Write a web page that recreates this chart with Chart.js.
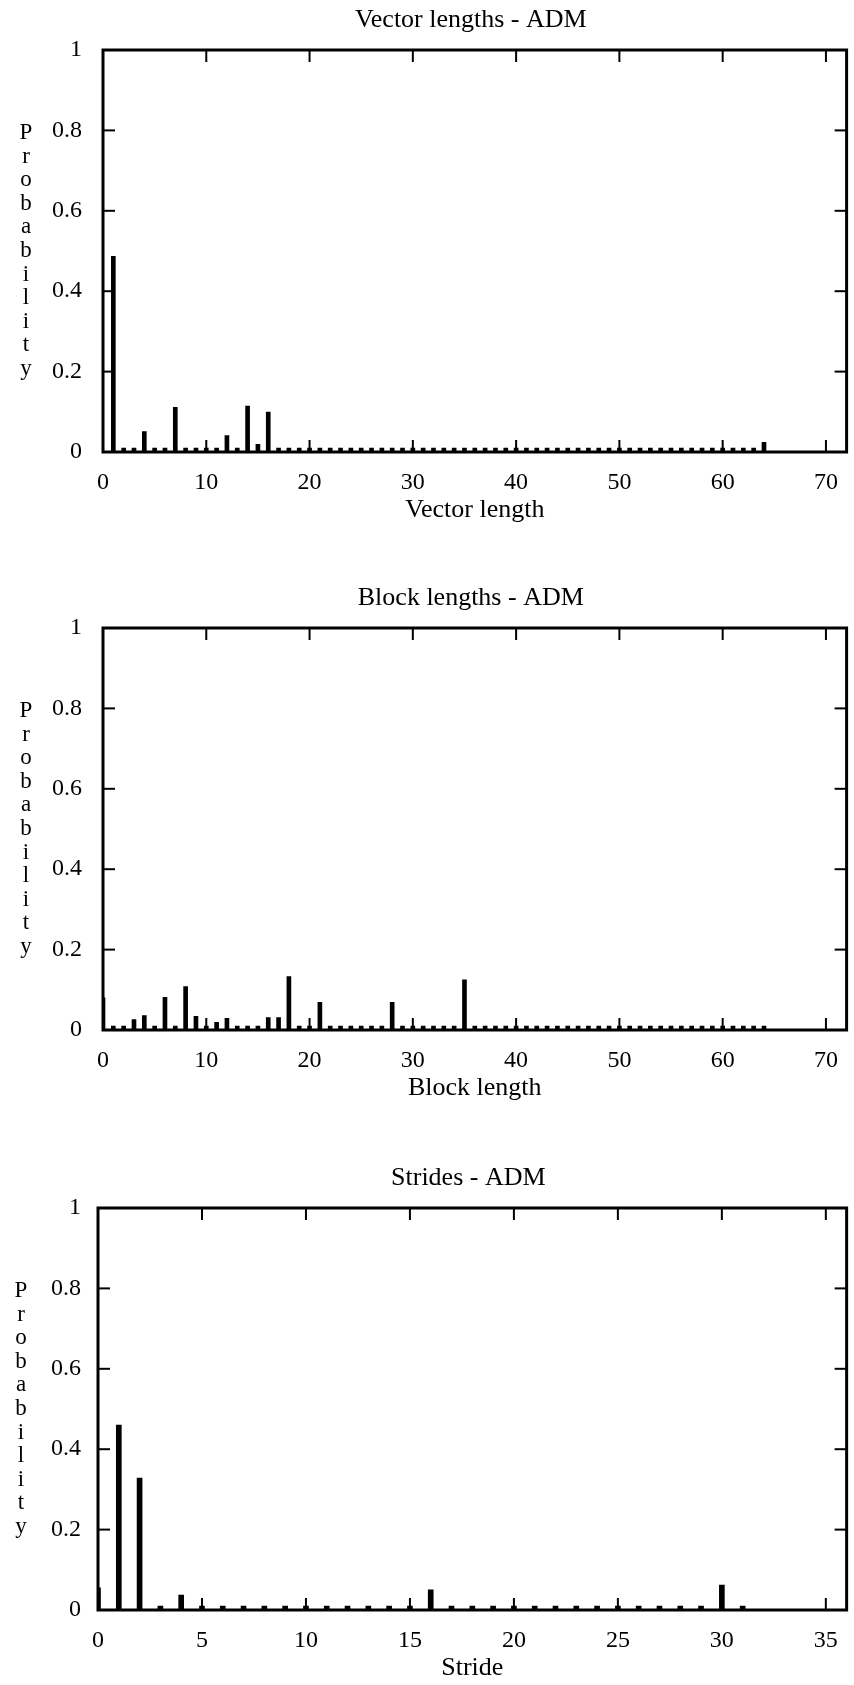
<!DOCTYPE html>
<html>
<head>
<meta charset="utf-8">
<script src="https://cdn.jsdelivr.net/npm/chart.js@4.4.0/dist/chart.umd.min.js"></script>
<style>
  body { margin: 0; background: #fff; }
  #page { position: relative; width: 854px; height: 1685px; }
  canvas { position: absolute; left: 0; }
</style>
</head>
<body>
<div id="page">
  <canvas id="vectorChart" width="854" height="527" style="top:0px"></canvas>
  <canvas id="blockChart" width="854" height="527" style="top:578px"></canvas>
  <canvas id="strideChart" width="854" height="527" style="top:1158px"></canvas>
</div>
<script>
// probabilities, one value per integer x
const vectorStart = 1;
const vectorProb = [
    0.487, 0, 0, 0.051, 0, 0, 0.111, 0, 0, 0,
    0, 0.041, 0, 0.114, 0.019, 0.099, 0, 0, 0, 0,
    0, 0, 0, 0, 0, 0, 0, 0, 0, 0,
    0, 0, 0, 0, 0, 0, 0, 0, 0, 0,
    0, 0, 0, 0, 0, 0, 0, 0, 0, 0,
    0, 0, 0, 0, 0, 0, 0, 0, 0, 0,
    0, 0, 0, 0.024
];

const blockStart = 0;
const blockProb = [
    0.080, 0, 0, 0.026, 0.036, 0, 0.081, 0, 0.108, 0.034,
    0, 0.019, 0.029, 0, 0, 0.009, 0.031, 0.031, 0.133, 0,
    0, 0.069, 0, 0, 0, 0, 0, 0, 0.069, 0.007,
    0, 0, 0, 0, 0, 0.125, 0, 0.006, 0, 0,
    0, 0, 0, 0, 0, 0, 0, 0, 0, 0,
    0, 0, 0, 0, 0, 0, 0, 0, 0, 0,
    0, 0, 0, 0, 0
];

const strideStart = 0;
const strideProb = [
    0.055, 0.460, 0.328, 0, 0.037, 0, 0, 0, 0, 0,
    0, 0, 0, 0, 0, 0, 0.050, 0, 0, 0,
    0, 0, 0, 0, 0, 0, 0, 0, 0, 0,
    0.062, 0
];

const probTicks = [0, 0.2, 0.4, 0.6, 0.8, 1];
const lengthTicks = [0, 10, 20, 30, 40, 50, 60, 70];
const strideTicks = [0, 5, 10, 15, 20, 25, 30, 35];

const serif = '"Liberation Serif", "Times New Roman", serif';
const tickFont = { family: serif, size: 24 };

// gnuplot-like frame: box, inward ticks on all sides, title, labels
const gnuFrame = {
    id: 'gnuFrame',
    afterDatasetsDraw(chart, args, opts) {
        const { ctx, chartArea: a, scales: { x, y } } = chart;
        const line = (x1, y1, x2, y2) => {
            ctx.beginPath();
            ctx.moveTo(x1, y1);
            ctx.lineTo(x2, y2);
            ctx.stroke();
        };
        ctx.save();
        ctx.strokeStyle = '#000';
        ctx.lineWidth = 2;
        x.ticks.forEach(t => {
            const px = x.getPixelForValue(t.value);
            if (px <= a.left + 1 || px >= a.right - 1) return;
            line(px, a.bottom, px, a.bottom - 12);
            line(px, a.top, px, a.top + 12);
        });
        y.ticks.forEach(t => {
            const py = y.getPixelForValue(t.value);
            if (py <= a.top + 1 || py >= a.bottom - 1) return;
            line(a.left, py, a.left + 12, py);
            line(a.right, py, a.right - 12, py);
        });
        ctx.lineWidth = 3;
        ctx.strokeRect(a.left, a.top, a.right - a.left, a.bottom - a.top);

        ctx.fillStyle = '#000';
        ctx.textAlign = 'center';
        ctx.textBaseline = 'alphabetic';
        ctx.font = '26px ' + serif;
        const cx = (a.left + a.right) / 2;
        ctx.fillText(opts.title, cx - 4, a.top - 23);
        ctx.fillText(opts.xLabel, cx, a.bottom + 65);
        ctx.font = '23px ' + serif;
        [...opts.yLabel].forEach((ch, i) => {
            ctx.fillText(ch, opts.yLabelX, a.top + 89 + i * 23.6);
        });
        ctx.restore();
    }
};

function makeChart(id, cfg) {
    const points = cfg.values.map((v, i) => ({ x: cfg.start + i, y: v }));
    return new Chart(document.getElementById(id), {
        type: 'bar',
        data: {
            datasets: [{
                data: points,
                backgroundColor: '#000',
                borderWidth: 0,
                barThickness: cfg.barWidth,
                minBarLength: 4
            }]
        },
        options: {
            responsive: false,
            animation: false,
            layout: { padding: { top: 50, right: cfg.right, bottom: 0, left: 0 } },
            plugins: {
                legend: { display: false },
                tooltip: { enabled: false },
                gnuFrame: { title: cfg.title, xLabel: cfg.xLabel, yLabel: 'Probability', yLabelX: cfg.yLabelX }
            },
            scales: {
                x: {
                    type: 'linear',
                    min: 0,
                    max: cfg.xMax,
                    offset: false,
                    grid: { display: false, drawTicks: false },
                    border: { display: false },
                    afterBuildTicks: s => { s.ticks = cfg.xTicks.map(v => ({ value: v })); },
                    afterFit: s => { s.height = 75; },
                    ticks: {
                        padding: 16, maxRotation: 0, autoSkip: false,
                        color: '#000', font: tickFont, callback: v => String(v)
                    }
                },
                y: {
                    min: 0,
                    max: 1,
                    grid: { display: false, drawTicks: false },
                    border: { display: false },
                    afterBuildTicks: s => { s.ticks = probTicks.map(v => ({ value: v })); },
                    afterFit: s => { s.width = cfg.left; },
                    ticks: {
                        padding: cfg.yPad, autoSkip: false,
                        color: '#000', font: tickFont, callback: v => String(v)
                    }
                }
            }
        },
        plugins: [gnuFrame]
    });
}

// Vector lengths
makeChart('vectorChart', {
    values: vectorProb, start: vectorStart, xMax: 72, xTicks: lengthTicks,
    title: 'Vector lengths - ADM', xLabel: 'Vector length',
    left: 103, right: 2, yPad: 21, yLabelX: 26, barWidth: 4
});

// Block lengths
makeChart('blockChart', {
    values: blockProb, start: blockStart, xMax: 72, xTicks: lengthTicks,
    title: 'Block lengths - ADM', xLabel: 'Block length',
    left: 103, right: 2, yPad: 21, yLabelX: 26, barWidth: 4
});

// Strides
makeChart('strideChart', {
    values: strideProb, start: strideStart, xMax: 36, xTicks: strideTicks,
    title: 'Strides - ADM', xLabel: 'Stride',
    left: 98, right: 6, yPad: 17, yLabelX: 21, barWidth: 5
});
</script>
</body>
</html>
